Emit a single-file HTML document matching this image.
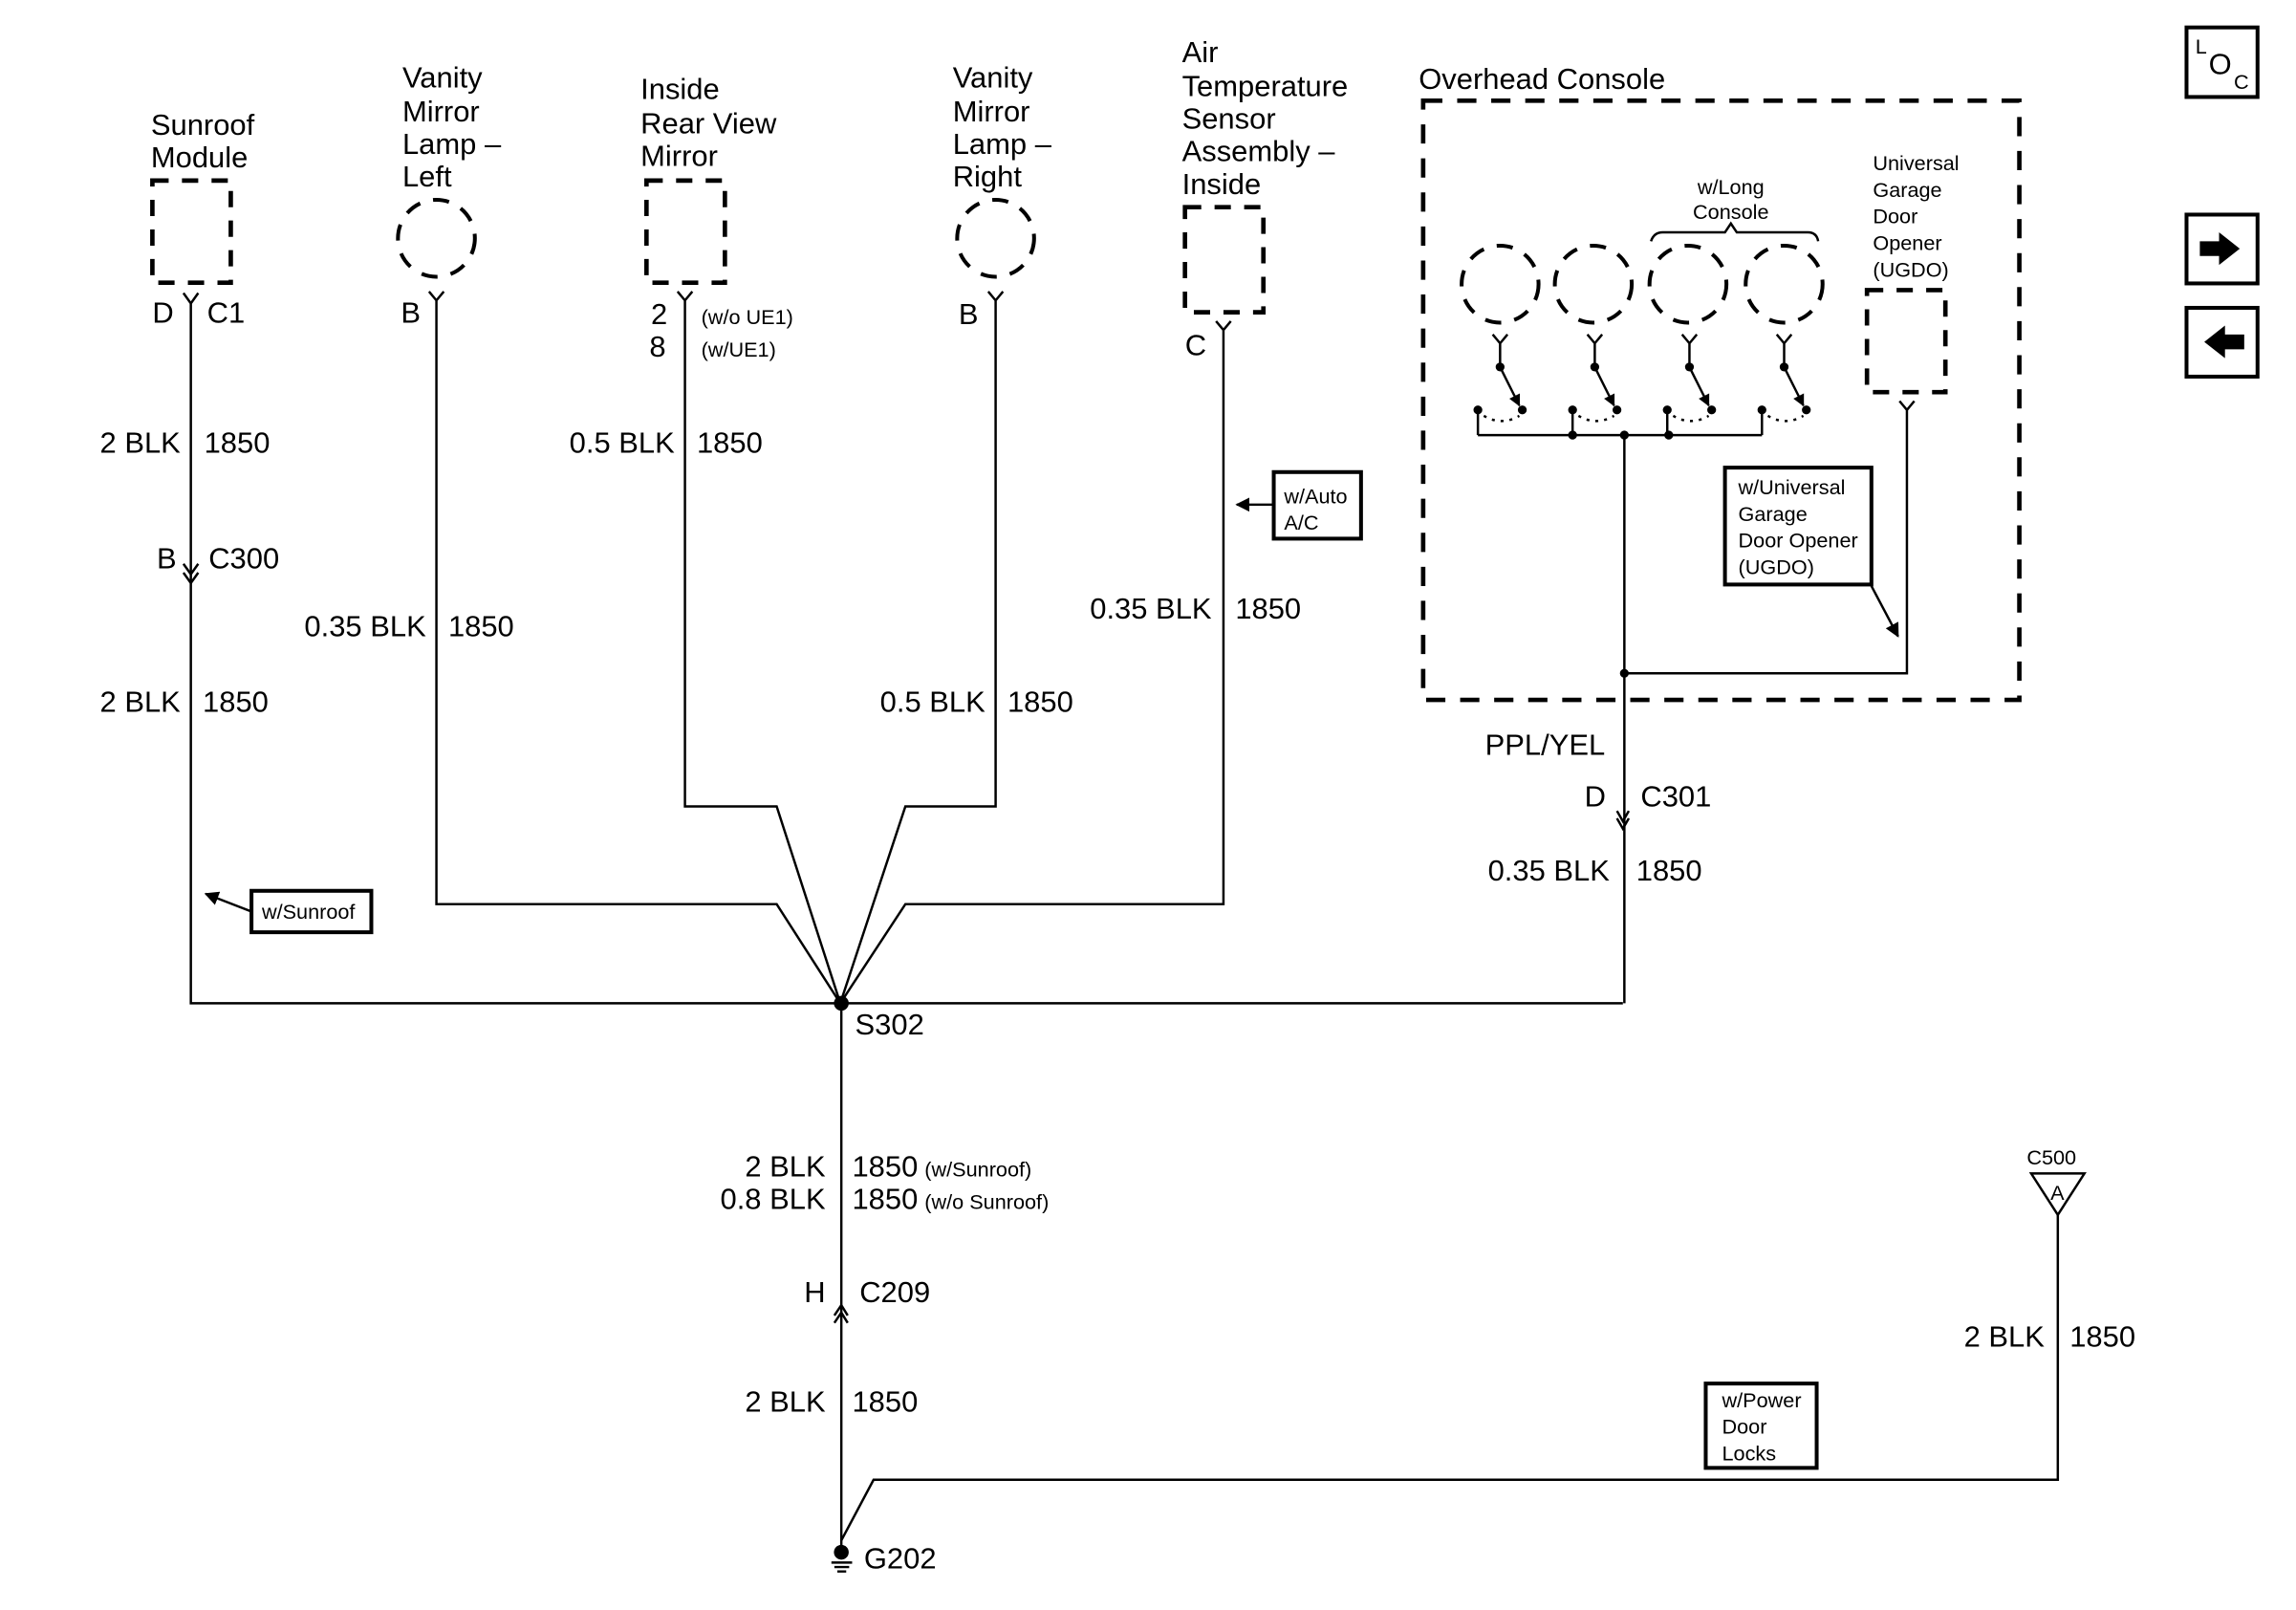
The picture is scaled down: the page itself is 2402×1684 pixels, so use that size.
<!DOCTYPE html>
<html><head><meta charset="utf-8"><style>
html,body{margin:0;padding:0;background:#fff}
svg{display:block}
text{font-family:"Liberation Sans",Arial,sans-serif;fill:#000}
.t{font-size:20px}
.s{font-size:14px}
.r{text-anchor:end}
</style></head><body>
<svg width="2402" height="1684" viewBox="0 0 1552 1088" xmlns="http://www.w3.org/2000/svg">
<defs>
<marker id="ah" viewBox="0 0 10 10" refX="9" refY="5" markerWidth="6" markerHeight="6" orient="auto"><path d="M0,0 L10,5 L0,10 z" fill="#000"/></marker>
<marker id="as" viewBox="0 0 10 10" refX="9" refY="5" markerWidth="5" markerHeight="5" orient="auto"><path d="M0,0 L10,5 L0,10 z" fill="#000"/></marker>
</defs>
<g fill="none" stroke="#000" stroke-width="1.6">
<rect x="103" y="122" width="53" height="69" stroke-width="3" stroke-dasharray="11,9"/>
<path d="M124,198 L129,205 L134,198 M129,205 V678 H1097"/>
<path d="M124,381 L129,388 L134,381 M124,387 L129,394 L134,387"/>
<circle cx="295" cy="161" r="26" stroke-width="2.6" stroke-dasharray="11,9"/>
<path d="M290,197 L295,203 L300,197 M295,203 V611 H525 L568,678"/>
<rect x="437" y="122" width="53" height="69" stroke-width="3" stroke-dasharray="11,9"/>
<path d="M458,197 L463,203 L468,197 M463,203 V545 H525 L568,678"/>
<circle cx="673" cy="161" r="26" stroke-width="2.6" stroke-dasharray="11,9"/>
<path d="M668,197 L673,203 L678,197 M673,203 V545 H612 L568,678"/>
<rect x="801" y="140" width="53" height="71" stroke-width="3" stroke-dasharray="11,9"/>
<path d="M822,217 L827,223 L832,217 M827,223 V611 H612 L568,678"/>
<rect x="861" y="319" width="59" height="45" stroke-width="2.6"/>
<path d="M861,341 H836" marker-end="url(#ah)"/>
<rect x="170" y="602" width="81" height="28" stroke-width="2.6"/>
<path d="M170,616 L139,604" marker-end="url(#ah)"/>
<rect x="962" y="68" width="403" height="405" stroke-width="3" stroke-dasharray="13,10"/>
<path d="M1116,163 Q1118,157 1124,157 H1166 L1170,151 L1174,157 H1222 Q1228,157 1229,163"/>
<circle cx="1014" cy="192" r="26" stroke-width="2.6" stroke-dasharray="11,9"/>
<circle cx="1077" cy="192" r="26" stroke-width="2.6" stroke-dasharray="11,9"/>
<circle cx="1141" cy="192" r="26" stroke-width="2.6" stroke-dasharray="11,9"/>
<circle cx="1206" cy="192" r="26" stroke-width="2.6" stroke-dasharray="11,9"/>
<g id="sw">
<path d="M1009,226 L1014,232 L1019,226 M1014,232 V248"/>
<path d="M1014,248 L1027,274" marker-end="url(#as)"/>
<path d="M999,276 V294"/>
<path d="M1003,281 Q1015,288 1027,281" stroke-dasharray="2,4"/>
</g>
<use href="#sw" x="64"/>
<use href="#sw" x="128"/>
<use href="#sw" x="192"/>
<path d="M999,294 H1191 M1098,294 V678"/>
<rect x="1262" y="196" width="53" height="69" stroke-width="3" stroke-dasharray="11,9"/>
<path d="M1284,271 L1289,277 L1294,271 M1289,277 V455 H1098"/>
<rect x="1166" y="316" width="99" height="79" stroke-width="2.6"/>
<path d="M1265,396 L1283,430" marker-end="url(#ah)"/>
<path d="M1093,548 L1097,555 L1101,548 M1093,553 L1097,560 L1101,553"/>
<path d="M568.7,678 V1049"/>
<path d="M564,889 L568.7,882 L573,889 M564,894 L568.7,887 L573,894"/>
<path d="M568.7,1041 L590.5,1000 H1391 V821"/>
<path d="M1373,793 H1409 L1391,821 Z"/>
<path d="M562,1056 H576 M564,1059 H574 M566,1062 H572"/>
<rect x="1153" y="935" width="75" height="57" stroke-width="2.6"/>
<rect x="1478" y="18.5" width="48" height="47" stroke-width="2.6"/>
<rect x="1478" y="145" width="48" height="46.5" stroke-width="2.6"/>
<rect x="1478" y="208" width="48" height="46.5" stroke-width="2.6"/>
</g>
<g fill="#000">
<circle cx="568.7" cy="678" r="5"/>
<circle cx="568.7" cy="1049" r="5"/>
<circle cx="1098" cy="294" r="3"/><circle cx="1063" cy="294" r="3"/><circle cx="1128" cy="294" r="3"/>
<circle cx="1098" cy="455" r="3"/>
<g id="dots"><circle cx="1014" cy="248" r="3"/><circle cx="999" cy="277" r="3"/><circle cx="1029" cy="277" r="3"/></g>
<use href="#dots" x="64"/><use href="#dots" x="128"/><use href="#dots" x="192"/>
<path d="M1487,163 H1500 V157 L1514,168 L1500,179 V173 H1487 Z"/>
<path d="M1517,226 H1504 V220 L1490,231 L1504,242 V236 H1517 Z"/>
</g>
<text class="t" x="102" y="91">Sunroof</text><text class="t" x="102" y="113">Module</text>
<text class="t" x="103" y="218">D</text><text class="t" x="140" y="218">C1</text>
<text class="t r" x="122" y="306">2 BLK</text><text class="t" x="138" y="306">1850</text>
<text class="t" x="106" y="384">B</text><text class="t" x="141" y="384">C300</text>
<text class="t r" x="122" y="481">2 BLK</text><text class="t" x="137" y="481">1850</text>
<text class="s" x="177" y="621">w/Sunroof</text>

<text class="t" x="272" y="59">Vanity</text><text class="t" x="272" y="82">Mirror</text><text class="t" x="272" y="104">Lamp –</text><text class="t" x="272" y="126">Left</text>
<text class="t" x="271" y="218">B</text>
<text class="t r" x="288" y="430">0.35 BLK</text><text class="t" x="303" y="430">1850</text>

<text class="t" x="433" y="67">Inside</text><text class="t" x="433" y="90">Rear View</text><text class="t" x="433" y="112">Mirror</text>
<text class="t" x="440" y="219">2</text><text class="s" x="474" y="219">(w/o UE1)</text>
<text class="t" x="439" y="241">8</text><text class="s" x="474" y="241">(w/UE1)</text>
<text class="t r" x="456" y="306">0.5 BLK</text><text class="t" x="471" y="306">1850</text>

<text class="t" x="644" y="59">Vanity</text><text class="t" x="644" y="82">Mirror</text><text class="t" x="644" y="104">Lamp –</text><text class="t" x="644" y="126">Right</text>
<text class="t" x="648" y="219">B</text>
<text class="t r" x="666" y="481">0.5 BLK</text><text class="t" x="681" y="481">1850</text>

<text class="t" x="799" y="42">Air</text><text class="t" x="799" y="65">Temperature</text><text class="t" x="799" y="87">Sensor</text><text class="t" x="799" y="109">Assembly –</text><text class="t" x="799" y="131">Inside</text>
<text class="t" x="801" y="240">C</text>
<text class="s" x="868" y="340">w/Auto</text><text class="s" x="868" y="358">A/C</text>
<text class="t r" x="819" y="418">0.35 BLK</text><text class="t" x="835" y="418">1850</text>

<text class="t" x="959" y="60">Overhead Console</text>
<text class="s" x="1170" y="131" text-anchor="middle">w/Long</text><text class="s" x="1170" y="148" text-anchor="middle">Console</text>
<text class="s" x="1266" y="115">Universal</text><text class="s" x="1266" y="133">Garage</text><text class="s" x="1266" y="151">Door</text><text class="s" x="1266" y="169">Opener</text><text class="s" x="1266" y="187">(UGDO)</text>
<text class="s" x="1175" y="334">w/Universal</text><text class="s" x="1175" y="352">Garage</text><text class="s" x="1175" y="370">Door Opener</text><text class="s" x="1175" y="388">(UGDO)</text>

<text class="t r" x="1085" y="510">PPL/YEL</text>
<text class="t" x="1071" y="545">D</text><text class="t" x="1109" y="545">C301</text>
<text class="t r" x="1088" y="595">0.35 BLK</text><text class="t" x="1106" y="595">1850</text>

<text class="t" x="578" y="699">S302</text>
<text class="t r" x="558" y="795">2 BLK</text><text class="t" x="576" y="795">1850</text><text class="s" x="625" y="795">(w/Sunroof)</text>
<text class="t r" x="558" y="817">0.8 BLK</text><text class="t" x="576" y="817">1850</text><text class="s" x="625" y="817">(w/o Sunroof)</text>
<text class="t r" x="558" y="880">H</text><text class="t" x="581" y="880">C209</text>
<text class="t r" x="558" y="954">2 BLK</text><text class="t" x="576" y="954">1850</text>
<text class="t" x="584" y="1060">G202</text>

<text class="s" x="1370" y="787">C500</text>
<text class="s" x="1386" y="811">A</text>
<text class="t r" x="1382" y="910">2 BLK</text><text class="t" x="1399" y="910">1850</text>
<text class="s" x="1164" y="951">w/Power</text><text class="s" x="1164" y="969">Door</text><text class="s" x="1164" y="987">Locks</text>

<text class="s" x="1484" y="36">L</text><text class="t" x="1493" y="50">O</text><text class="s" x="1510" y="60">C</text>
</svg>
</body></html>
